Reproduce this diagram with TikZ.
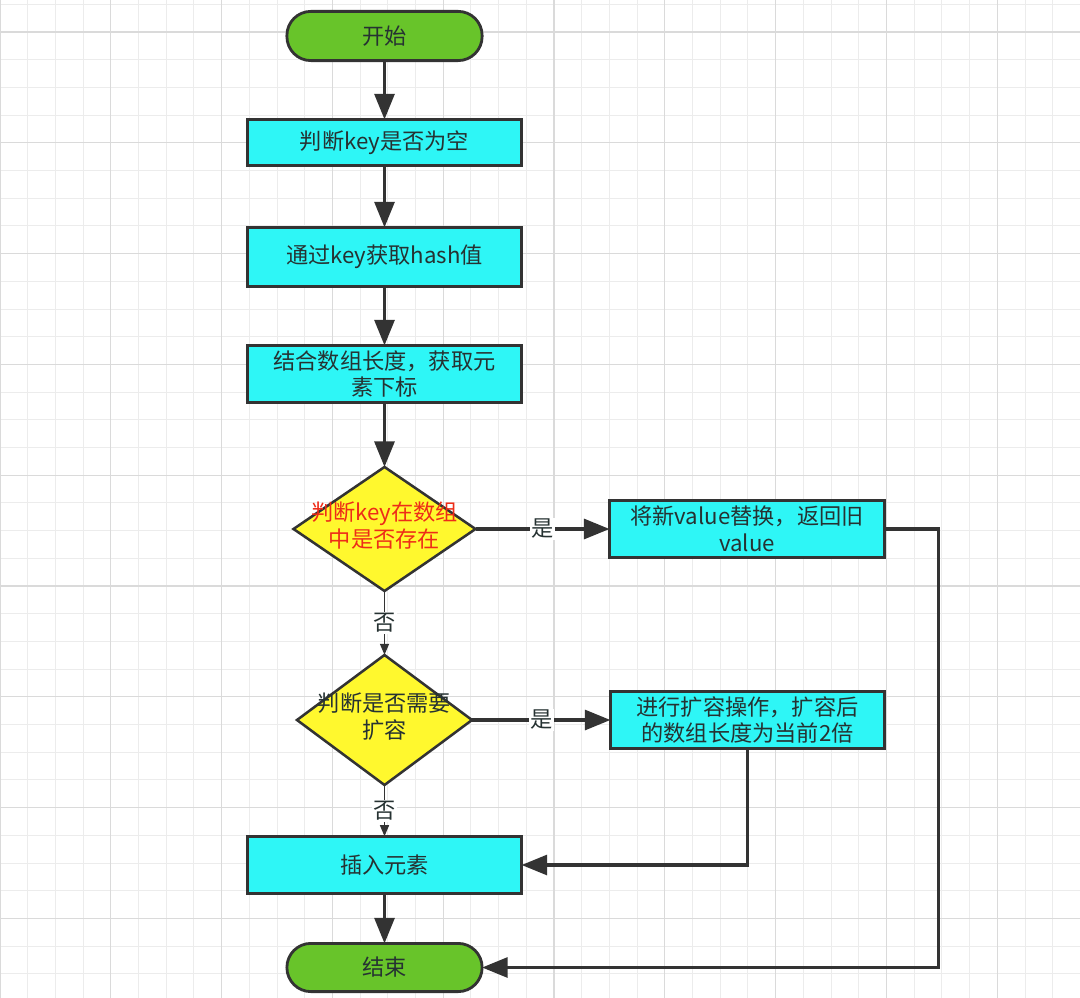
\documentclass[tikz,border=0pt]{standalone}
\usepackage{fontspec}
\setmainfont{Noto Sans CJK SC}
\usepackage{xcolor}
\usepackage{tikz}
\usetikzlibrary{shapes.geometric,arrows.meta,positioning}

\definecolor{termgreen}{RGB}{104,196,42}
\definecolor{boxcyan}{RGB}{46,246,246}
\definecolor{decyellow}{RGB}{255,248,46}
\definecolor{edgegray}{RGB}{51,51,51}
\definecolor{txtdark}{RGB}{38,50,50}
\definecolor{txtred}{RGB}{238,44,24}
\definecolor{gridminor}{RGB}{236,236,236}
\definecolor{gridmajor}{RGB}{218,218,218}

\newcommand{\nodefont}{\fontsize{15.8pt}{19pt}\selectfont}
\newcommand{\dectext}[1]{\makebox[0pt]{\begin{tabular}{@{}c@{}}#1\end{tabular}}}

\begin{document}
\begin{tikzpicture}[
  term/.style={draw=edgegray, line width=2pt, outer sep=0pt, rectangle, rounded corners=0.6cm, minimum width=4.88cm, minimum height=1.23cm, fill=termgreen, text=txtdark, font=\nodefont},
  proc/.style={draw=edgegray, line width=2pt, outer sep=0pt, rectangle, minimum width=6.855cm, minimum height=1.43cm, align=center, fill=boxcyan, text=txtdark, font=\nodefont},
  dec/.style={draw=edgegray, line width=1.8pt, outer sep=0pt, diamond, inner sep=0pt, aspect=1.45, minimum width=4.55cm, minimum height=3.1cm, fill=decyellow, text=txtdark, font=\nodefont},
  arr/.style={-{Triangle[length=0.64cm,width=0.5cm]}, line width=2.2pt, draw=edgegray},
  narr/.style={-{Triangle[length=0.28cm,width=0.22cm]}, line width=1.4pt, draw=edgegray},
  lbl/.style={font=\nodefont, fill=white, inner sep=1pt, text=txtdark},
  node distance=1.47cm
]

\fill[white] (0,0) rectangle (27,-24.95);
\useasboundingbox (0,0) rectangle (27,-24.95);

\foreach \k in {0,...,39}
  \draw[gridminor, line width=0.6pt] ({\k*0.6925},0) -- ({\k*0.6925},-24.95);
\foreach \k in {-1,...,35}
  \draw[gridminor, line width=0.6pt] (0,{-0.8-\k*0.6925}) -- (27,{-0.8-\k*0.6925});
\foreach \k in {0,...,9}
  \draw[gridmajor, line width=0.9pt] ({\k*2.77},0) -- ({\k*2.77},-24.95);
\foreach \k in {0,...,8}
  \draw[gridmajor, line width=0.9pt] (0,{-0.8-\k*2.77}) -- (27,{-0.8-\k*2.77});

\node[term] (start) at (9.6125,-0.9) {开始};

\node[proc, below=1.47cm of start, minimum height=1.155cm] (chk) {判断key是否为空};

\node[proc, below=1.545cm of chk, minimum height=1.48cm] (hash) {通过key获取hash值};

\node[proc, below=1.47cm of hash] (idx) {结合数组长度，获取元\\素下标};

\node[dec, below=1.61cm of idx, text=txtred] (exist) {\dectext{判断key在数组\\中是否存在}};

\node[dec, below=1.6cm of exist, minimum width=4.375cm, minimum height=3.25cm] (grow) {\dectext{判断是否需要\\扩容}};

\node[proc, below=1.285cm of grow] (ins) {插入元素};

\node[term, below=1.245cm of ins, minimum height=1.205cm] (fin) {结束};

\node[proc, right=3.35cm of exist, minimum width=6.88cm] (repl) {将新value替换，返回旧\\value};

\node[proc, right=3.46cm of grow, minimum height=1.405cm] (resize) {进行扩容操作，扩容后\\的数组长度为当前2倍};

\draw[arr] (start) -- (chk);
\draw[arr] (chk) -- (hash);
\draw[arr] (hash) -- (idx);
\draw[arr] (idx) -- (exist);

\draw[arr] (exist) -- node[lbl] {是} (repl);
\draw[narr] (exist) -- node[lbl] {否} (grow);
\draw[arr] (grow) -- node[lbl] {是} (resize);
\draw[narr] (grow) -- node[lbl] {否} (ins);
\draw[arr] (ins) -- (fin);

\draw[arr] (resize.south) |- (ins.east);
\draw[arr] (repl.east) -- ++(1.35,0) |- (fin.east);

\end{tikzpicture}
\end{document}
